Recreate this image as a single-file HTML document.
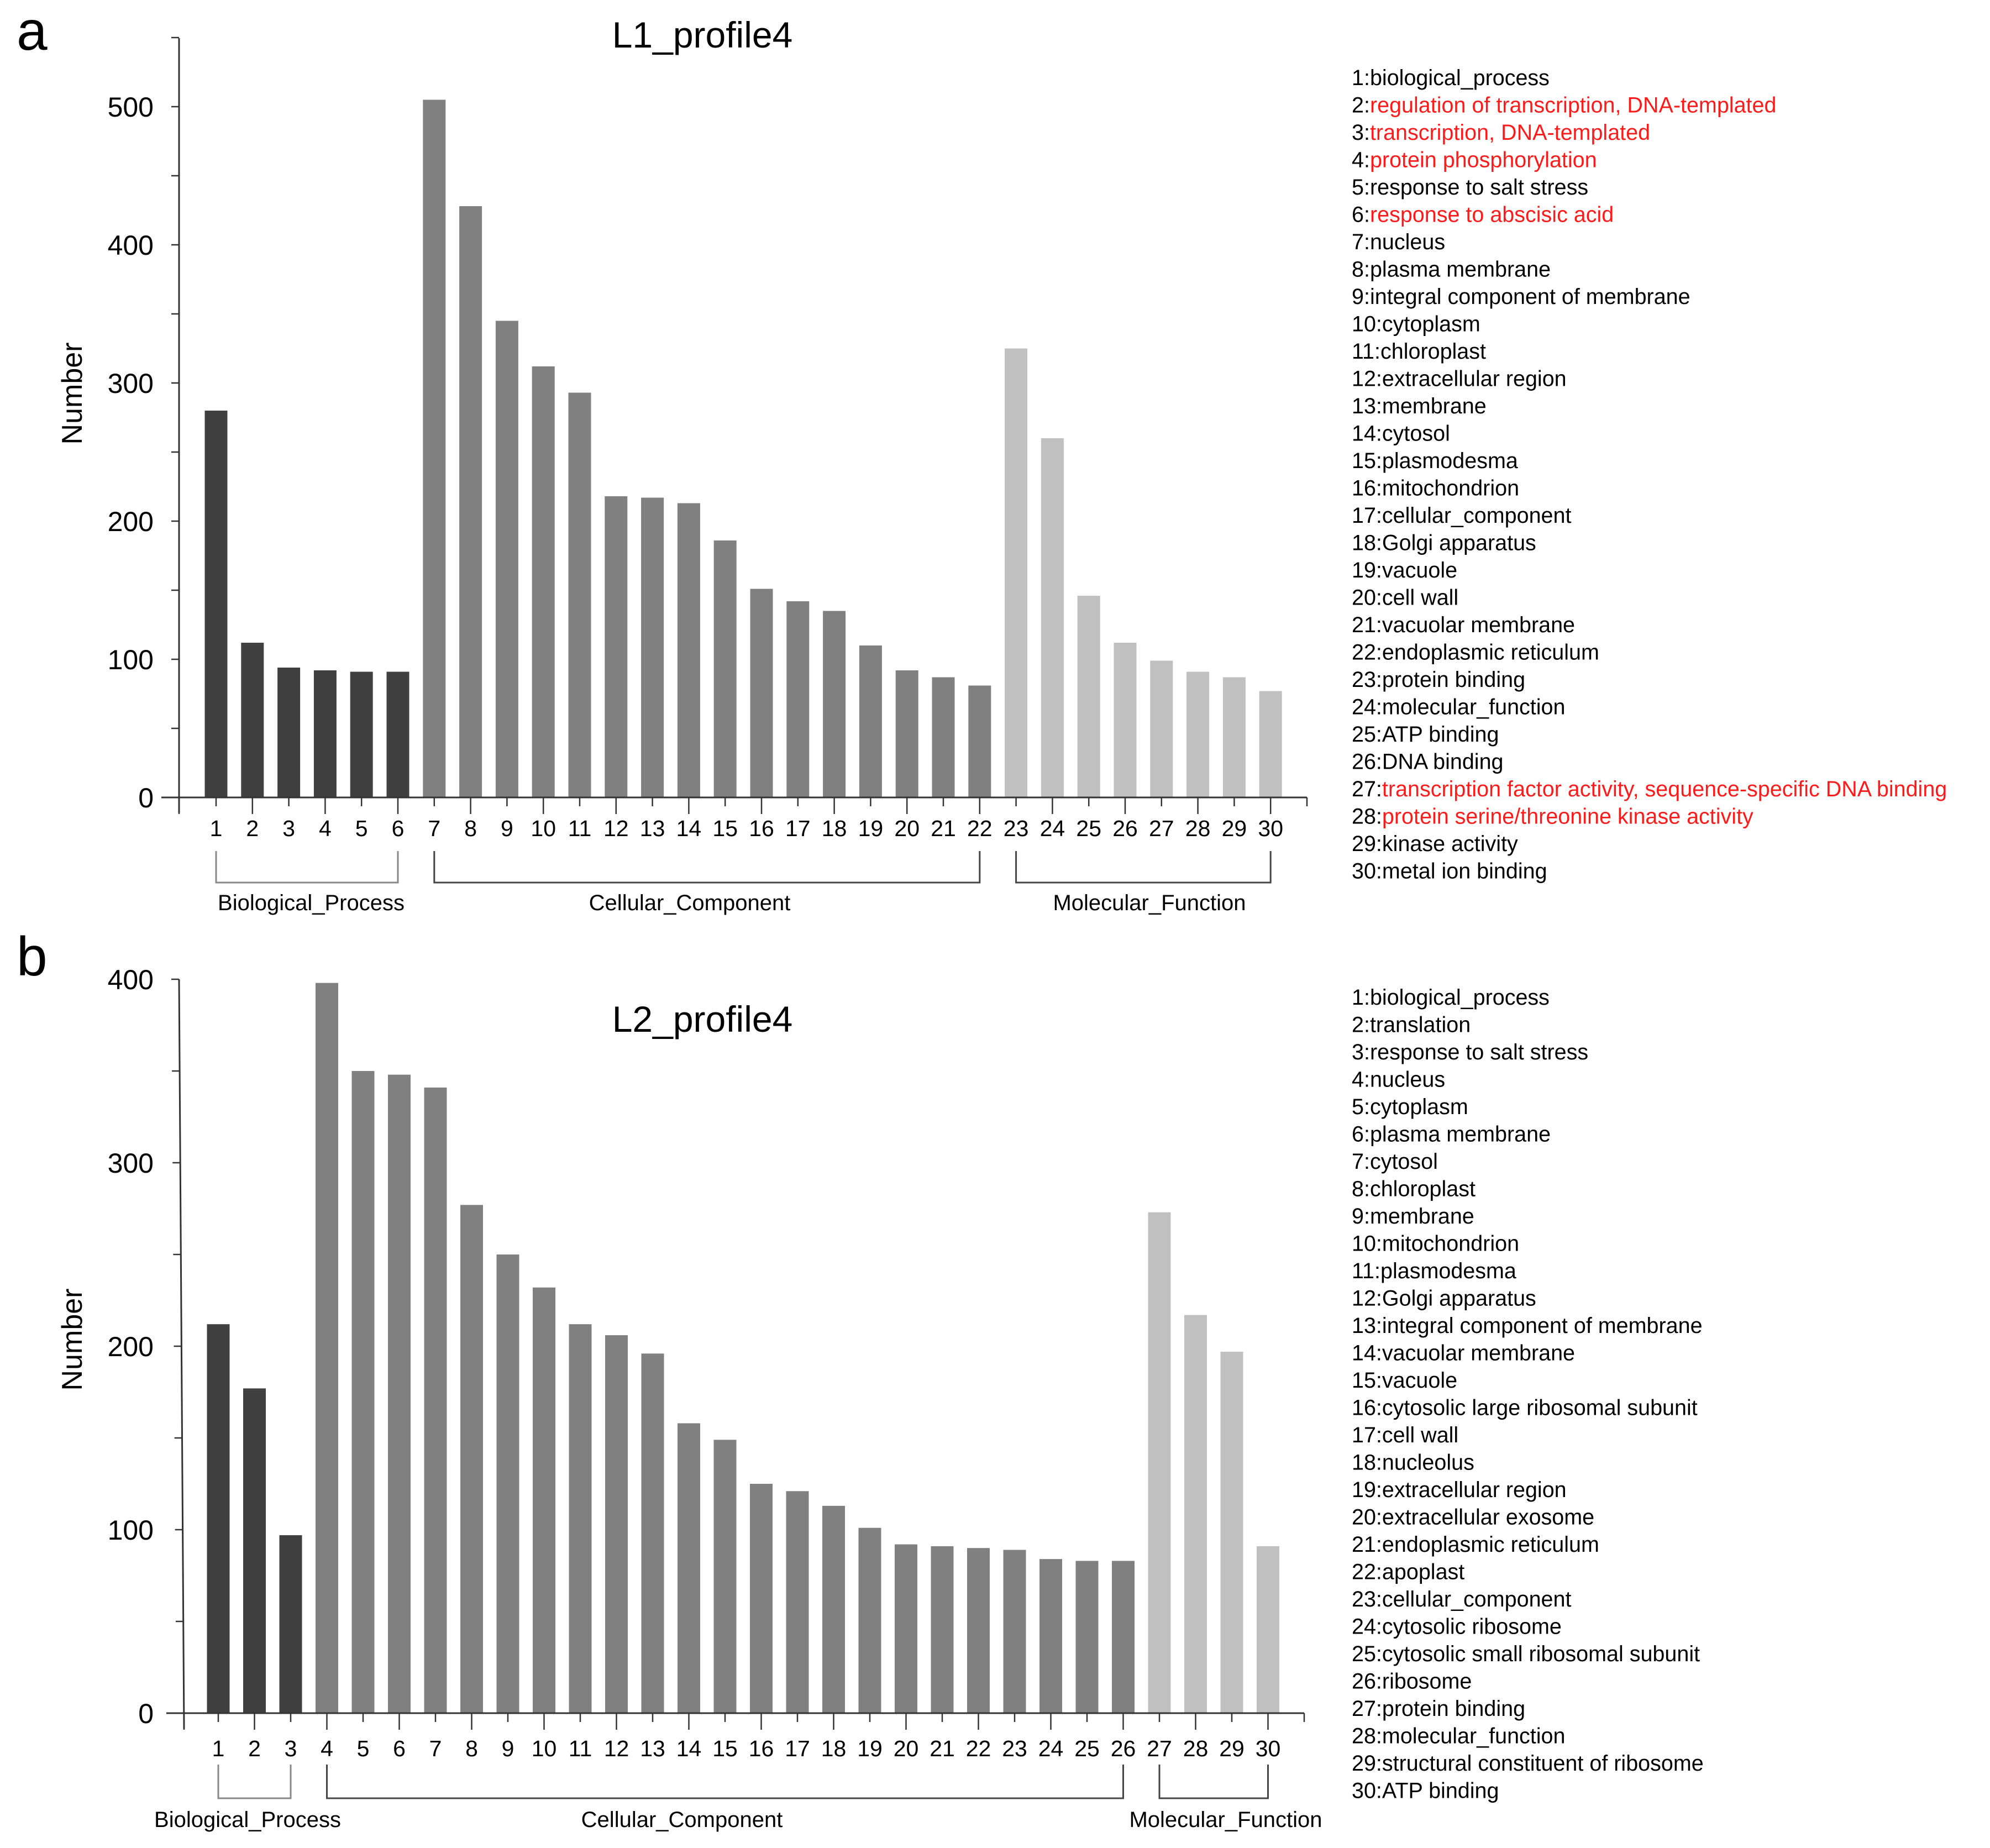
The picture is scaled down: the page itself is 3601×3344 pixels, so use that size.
<!DOCTYPE html>
<html><head><meta charset="utf-8">
<style>
html,body{margin:0;padding:0;background:#fff;}
svg{display:block;font-family:"Liberation Sans",Arial,sans-serif;}
</style></head>
<body>
<svg id="root" width="3601" height="3344" viewBox="0 0 3601 3344" xmlns="http://www.w3.org/2000/svg">
  <text x="30" y="90" font-size="100" fill="#000">a</text>
  <text x="30" y="1765" font-size="100" fill="#000">b</text>
  <text x="1271" y="86" font-size="66" text-anchor="middle" fill="#000">L1_profile4</text>
  <text x="1271" y="1867" font-size="66" text-anchor="middle" fill="#000">L2_profile4</text>
  <text transform="translate(148,712) rotate(-90)" font-size="52" text-anchor="middle" fill="#000">Number</text>
  <text transform="translate(148,2424) rotate(-90)" font-size="52" text-anchor="middle" fill="#000">Number</text>
  <g id="ga"></g>
  <g id="gb"></g>
</svg>
<script>
const valuesA=[280,112,94,92,91,91,505,428,345,312,293,218,217,213,186,151,142,135,110,92,87,81,325,260,146,112,99,91,87,77];
const groupsA=[0,0,0,0,0,0,1,1,1,1,1,1,1,1,1,1,1,1,1,1,1,1,2,2,2,2,2,2,2,2];
const ticksA=[0,100,200,300,400,500];
const labelsA=["biological_process","regulation of transcription, DNA-templated","transcription, DNA-templated","protein phosphorylation","response to salt stress","response to abscisic acid","nucleus","plasma membrane","integral component of membrane","cytoplasm","chloroplast","extracellular region","membrane","cytosol","plasmodesma","mitochondrion","cellular_component","Golgi apparatus","vacuole","cell wall","vacuolar membrane","endoplasmic reticulum","protein binding","molecular_function","ATP binding","DNA binding","transcription factor activity, sequence-specific DNA binding","protein serine/threonine kinase activity","kinase activity","metal ion binding"];
const redA=[2,3,4,6,27,28];
const valuesB=[212,177,97,398,350,348,341,277,250,232,212,206,196,158,149,125,121,113,101,92,91,90,89,84,83,83,273,217,197,91];
const groupsB=[0,0,0,1,1,1,1,1,1,1,1,1,1,1,1,1,1,1,1,1,1,1,1,1,1,1,2,2,2,2];
const ticksB=[0,100,200,300,400];
const labelsB=["biological_process","translation","response to salt stress","nucleus","cytoplasm","plasma membrane","cytosol","chloroplast","membrane","mitochondrion","plasmodesma","Golgi apparatus","integral component of membrane","vacuolar membrane","vacuole","cytosolic large ribosomal subunit","cell wall","nucleolus","extracellular region","extracellular exosome","endoplasmic reticulum","apoplast","cellular_component","cytosolic ribosome","cytosolic small ribosomal subunit","ribosome","protein binding","molecular_function","structural constituent of ribosome","ATP binding"];
const redB=[];
const groupNames=["Biological_Process","Cellular_Component","Molecular_Function"];
const colors=["#404040","#808080","#c0c0c0"];
const NS="http://www.w3.org/2000/svg";
function mk(parent,tag,attrs,text){const e=document.createElementNS(NS,tag);for(const k in attrs)e.setAttribute(k,attrs[k]);if(text!==undefined)e.textContent=text;parent.appendChild(e);return e;}

function drawChart(g,cfg,values,groups,ticks,labels,red,prefix){
  const yScale=v=>cfg.y0-(v/cfg.tickStep)*cfg.unit;
  const xScale=i=>cfg.x1+i*cfg.dx;
  values.forEach((v,i)=>{
    const r=mk(g,'rect',{x:xScale(i)-20.5,y:yScale(v),width:41,height:cfg.y0-yScale(v),fill:colors[groups[i]]});
    
    
  });
  const ax=mk(g,'line',{x1:cfg.axTopX,y1:cfg.axTop,x2:cfg.axBotX,y2:cfg.y0+28,stroke:'#333','stroke-width':3});
  
  
  const maxT=ticks[ticks.length-1];
  for(let t=0;t<=maxT+(cfg.extraMinor?cfg.tickStep/2:0);t+=cfg.tickStep/2){
    const y=yScale(t);
    const fr=(cfg.y0-y)/(cfg.y0-cfg.axTop);
    const xx=cfg.axBotX+(cfg.axTopX-cfg.axBotX)*fr;
    mk(g,'line',{x1:xx-14,y1:y,x2:xx,y2:y,stroke:'#333','stroke-width':2.5});
  }
  ticks.forEach(t=>{
    const tl=mk(g,'text',{x:278,y:yScale(t)+18,'font-size':50,'text-anchor':'end',fill:'#000'},String(t));
    
    
  });
  const xa=mk(g,'line',{x1:cfg.axBotX-32,y1:cfg.y0,x2:xScale(29)+cfg.dx,y2:cfg.y0,stroke:'#333','stroke-width':3});
  
  
  mk(g,'line',{x1:cfg.axBotX,y1:cfg.y0,x2:cfg.axBotX,y2:cfg.y0+30,stroke:'#333','stroke-width':2.5});
  mk(g,'line',{x1:xScale(29)+cfg.dx,y1:cfg.y0,x2:xScale(29)+cfg.dx,y2:cfg.y0+16,stroke:'#333','stroke-width':2.5});
  values.forEach((v,i)=>{
    const x=xScale(i);
    mk(g,'line',{x1:x,y1:cfg.y0,x2:x,y2:cfg.y0+(i%2===1?30:16),stroke:'#333','stroke-width':2.5});
    const tl=mk(g,'text',{x:x,y:cfg.tickY+15,'font-size':41,'text-anchor':'middle',fill:'#000'},String(i+1));
    
    
  });
  for(let gi=0;gi<3;gi++){
    const idx=groups.map((q,i)=>q===gi?i:-1).filter(i=>i>=0);
    const xa1=xScale(idx[0]), xb=xScale(idx[idx.length-1]);
    const col=gi===0?'#888':'#444';
    const br=mk(g,'polyline',{points:`${xa1},${cfg.brTop} ${xa1},${cfg.brBot} ${xb},${cfg.brBot} ${xb},${cfg.brTop}`,fill:'none',stroke:col,'stroke-width':3});
    
    
    const lt=mk(g,'text',{x:cfg.groupX[gi],y:cfg.groupY+14,'font-size':40,'text-anchor':'middle',fill:'#000'},groupNames[gi]);
    
    
  }
  labels.forEach((s,i)=>{
    const t=mk(g,'text',{x:2446,y:cfg.legY+i*49.5+14,'font-size':39.5,fill:'#000'});
    
    
    mk(t,'tspan',{},(i+1)+':');
    mk(t,'tspan',{fill:red.includes(i+1)?'#ff1a1a':'#000'},s);
  });
}
drawChart(document.getElementById('ga'),{y0:1443,unit:250,tickStep:100,x1:391,dx:65.8,axTop:69,axTopX:324,axBotX:324,tickY:1498,brTop:1540,brBot:1597,groupX:[563,1248,2080],groupY:1633,legY:140,extraMinor:true},valuesA,groupsA,ticksA,labelsA,redA,'chart-a');
drawChart(document.getElementById('gb'),{y0:3100,unit:332,tickStep:100,x1:395,dx:65.5,axTop:1772,axTopX:324,axBotX:333,tickY:3163,brTop:3193,brBot:3254,groupX:[448,1234,2218],groupY:3292,legY:1804,extraMinor:false},valuesB,groupsB,ticksB,labelsB,redB,'chart-b');
</script>
</body></html>
